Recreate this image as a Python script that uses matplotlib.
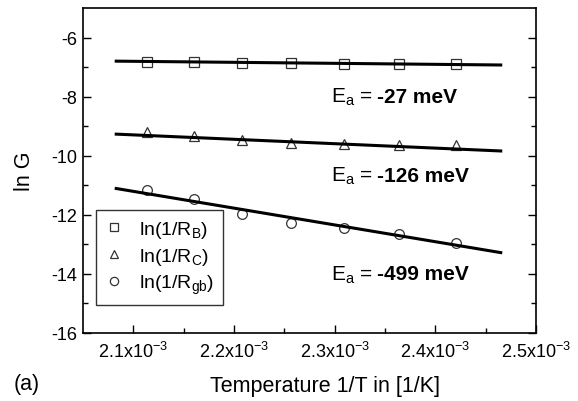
# arrhenius_plot.py

import matplotlib
matplotlib.use("Agg")
import matplotlib.pyplot as plt
import numpy as np

# 1/T in [1/K]
inv_T = np.array([2.114e-3, 2.160e-3, 2.208e-3, 2.257e-3, 2.309e-3, 2.364e-3, 2.421e-3])

# ln G for each contribution
ln_RB = np.array([-6.82, -6.82, -6.85, -6.87, -6.88, -6.88, -6.89])
ln_RC = np.array([-9.20, -9.33, -9.47, -9.57, -9.59, -9.64, -9.63])
ln_Rgb = np.array([-11.15, -11.46, -11.97, -12.29, -12.44, -12.66, -12.94])

# fitted lines (end points)
fit_x = np.array([2.083e-3, 2.465e-3])
fit_RB = np.array([-6.80, -6.93])
fit_RC = np.array([-9.27, -9.84])
fit_Rgb = np.array([-11.11, -13.28])

labels = [r"ln(1/R$_\mathregular{B}$)", r"ln(1/R$_\mathregular{C}$)", r"ln(1/R$_\mathregular{gb}$)"]
energies = ["-27 meV", "-126 meV", "-499 meV"]

x_ticks = [2.1e-3, 2.2e-3, 2.3e-3, 2.4e-3, 2.5e-3]
x_tick_labels = [r"2.1x10$^\mathregular{-3}$", r"2.2x10$^\mathregular{-3}$", r"2.3x10$^\mathregular{-3}$",
                 r"2.4x10$^\mathregular{-3}$", r"2.5x10$^\mathregular{-3}$"]
y_ticks = [-16, -14, -12, -10, -8, -6]


def main():
    plt.rcParams["font.family"] = ["Liberation Sans", "DejaVu Sans"]
    plt.rcParams["mathtext.fontset"] = "custom"
    plt.rcParams["mathtext.rm"] = "Liberation Sans"
    plt.rcParams["mathtext.bf"] = "Liberation Sans:bold"
    plt.rcParams["axes.unicode_minus"] = False

    fig = plt.figure(figsize=(5.78, 4.02), dpi=100)
    ax = fig.add_axes([0.1436, 0.1692, 0.7837, 0.8085])

    mk = dict(ls="none", mfc="none", mec="#333333", mew=0.9, ms=7)
    h1, = ax.plot(inv_T, ln_RB, marker="s", label=labels[0], **mk)
    h2, = ax.plot(inv_T, ln_RC, marker="^", label=labels[1], **mk)
    h3, = ax.plot(inv_T, ln_Rgb, marker="o", label=labels[2], **mk)

    for fy in (fit_RB, fit_RC, fit_Rgb):
        ax.plot(fit_x, fy, color="black", lw=2.2)

    ax.set_xlim(2.05e-3, 2.5e-3)
    ax.set_ylim(-16, -5)
    ax.set_xticks(x_ticks)
    ax.set_xticklabels(x_tick_labels)
    ax.set_xticks(np.array([2.15e-3, 2.25e-3, 2.35e-3, 2.45e-3]), minor=True)
    ax.set_yticks(y_ticks)
    ax.set_yticks([-15, -13, -11, -9, -7], minor=True)
    ax.tick_params(which="both", direction="in", right=True, top=False, labelsize=13, width=1.0)
    ax.tick_params(which="major", length=6)
    ax.tick_params(which="minor", length=3.5)
    ax.tick_params(axis="x", pad=6)
    ax.tick_params(axis="y", pad=4)
    for s in ax.spines.values():
        s.set_linewidth(1.2)

    ax.set_ylabel("ln G", fontsize=15.5)
    ax.yaxis.set_label_coords(-0.105, 0.5)
    ax.set_xlabel("Temperature 1/T in [1/K]", fontsize=15.5)
    ax.xaxis.set_label_coords(0.534, -0.13)
    fig.text(0.024, 0.03, "(a)", fontsize=15.5)

    # activation energy labels
    for ybase, e in zip([-8.17, -10.84, -14.17], energies):
        ax.text(2.296e-3, ybase, r"E$_\mathregular{a}$ =", fontsize=15, va="baseline")
        ax.text(2.342e-3, ybase, e, fontsize=15, fontweight="bold", va="baseline")

    leg = ax.legend(handles=[h1, h2, h3], loc="lower left", bbox_to_anchor=(0.028, 0.087),
                    borderaxespad=0, fontsize=14, fancybox=False, frameon=True, markerscale=0.85,
                    handletextpad=0.8, labelspacing=0.3, borderpad=0.45, handlelength=1.0)
    leg.get_frame().set_edgecolor("black")
    leg.get_frame().set_linewidth(1.0)

    plt.savefig("out.png", dpi=100)
    plt.close()


if __name__ == "__main__":
    main()
